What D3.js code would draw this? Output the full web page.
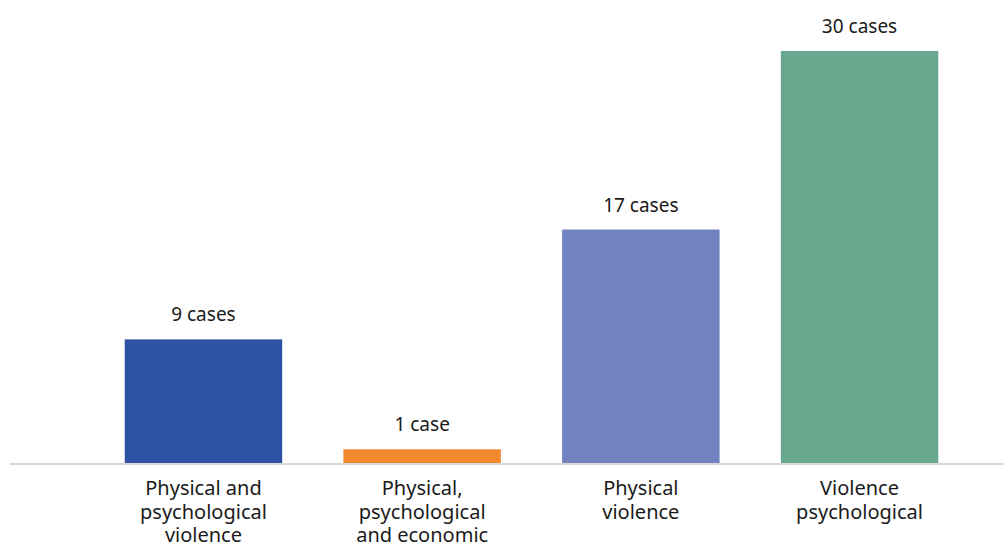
<!DOCTYPE html>
<html>
<head>
<meta charset="utf-8">
<script src="https://cdn.jsdelivr.net/npm/d3@7"></script>
<style>
  body { margin: 0; background: #fff; }
  text { font-family: "Noto Sans", sans-serif; fill: #1a1a1a; }
</style>
</head>
<body>
<div class="canvas"></div>
<script>
// data
const categories = [
    ['Physical and', 'psychological', 'violence'],
    ['Physical,', 'psychological', 'and economic'],
    ['Physical', 'violence'],
    ['Violence', 'psychological']
];
const cases = [9, 1, 17, 30];
const valueLabels = ['9 cases', '1 case', '17 cases', '30 cases'];
const colors = ['#2e52a3', '#f48a30', '#7282c0', '#69a78f'];

const width = 1004;
const height = 543;
const baseline = 463;

const svg = d3.select('.canvas')
    .append('svg')
    .attr('width', width)
    .attr('height', height);

// scales
const x = d3.scaleBand()
    .domain(d3.range(cases.length))
    .range([46, 1017])
    .paddingInner(0.28)
    .paddingOuter(0.36);

const y = d3.scaleLinear()
    .domain([0, 30])
    .range([baseline, 51]);

// bars
svg.selectAll('rect.bar')
    .data(cases)
    .enter()
    .append('rect')
    .attr('class', 'bar')
    .attr('x', (d, i) => x(i))
    .attr('y', d => y(d))
    .attr('width', x.bandwidth())
    .attr('height', d => y(0) - y(d))
    .attr('fill', (d, i) => colors[i]);

// baseline
svg.append('line')
    .attr('x1', 10)
    .attr('x2', width)
    .attr('y1', baseline + 1)
    .attr('y2', baseline + 1)
    .attr('stroke', '#d9d9d9')
    .attr('stroke-width', 2);

// value labels
svg.selectAll('text.value')
    .data(cases)
    .enter()
    .append('text')
    .attr('class', 'value')
    .attr('x', (d, i) => x(i) + x.bandwidth() / 2)
    .attr('y', d => y(d) - 18)
    .attr('text-anchor', 'middle')
    .style('font-size', '19px')
    .text((d, i) => valueLabels[i]);

// category labels (the last line sits at the bottom edge, as in the original)
const cat = svg.selectAll('text.cat')
    .data(categories)
    .enter()
    .append('text')
    .attr('class', 'cat')
    .attr('text-anchor', 'middle')
    .style('font-size', '20px');

cat.selectAll('tspan')
    .data((d, i) => d.map(line => ({line, i})))
    .enter()
    .append('tspan')
    .attr('x', d => x(d.i) + x.bandwidth() / 2)
    .attr('y', (d, j) => 495 + j * 23.5)
    .text(d => d.line);
</script>
</body>
</html>
